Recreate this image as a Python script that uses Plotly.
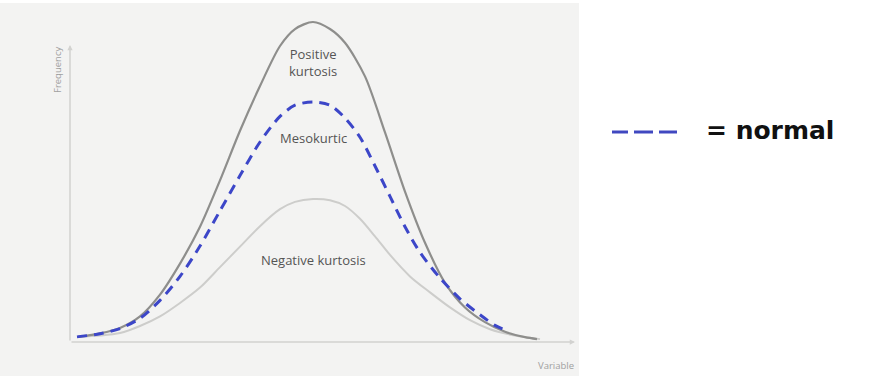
import plotly.graph_objects as go

# Values (x: variable, y: relative frequency)
pos_x = [0.16, 0.6, 1.0, 1.4, 1.8, 2.2, 2.6, 3.0, 3.4, 3.8, 4.2, 4.5, 4.86, 5.2, 5.5, 5.9, 6.3, 6.7, 7.1, 7.5, 7.9, 8.3, 8.7, 9.1, 9.34]
pos_y = [0.016, 0.027, 0.044, 0.080, 0.148, 0.245, 0.360, 0.505, 0.660, 0.800, 0.925, 0.978, 1.0, 0.978, 0.935, 0.830, 0.655, 0.470, 0.310, 0.185, 0.108, 0.062, 0.032, 0.015, 0.009]

norm_x = [0.14, 0.6, 1.0, 1.4, 1.8, 2.2, 2.6, 3.0, 3.4, 3.8, 4.2, 4.5, 4.86, 5.2, 5.5, 5.8, 6.1, 6.4, 6.7, 7.0, 7.4, 7.8, 8.2, 8.5, 8.7]
norm_y = [0.016, 0.026, 0.042, 0.074, 0.130, 0.205, 0.300, 0.410, 0.520, 0.625, 0.705, 0.740, 0.750, 0.740, 0.700, 0.640, 0.550, 0.455, 0.360, 0.280, 0.200, 0.135, 0.085, 0.052, 0.038]

neg_x = [0.16, 0.6, 1.0, 1.4, 1.8, 2.2, 2.6, 3.0, 3.4, 3.8, 4.2, 4.5, 4.86, 5.2, 5.5, 5.8, 6.1, 6.4, 6.8, 7.2, 7.6, 8.0, 8.4, 8.9, 9.4]
neg_y = [0.016, 0.020, 0.028, 0.050, 0.080, 0.122, 0.170, 0.234, 0.298, 0.362, 0.415, 0.438, 0.447, 0.443, 0.425, 0.385, 0.330, 0.272, 0.205, 0.155, 0.108, 0.068, 0.040, 0.020, 0.009]

labels = ["Positive<br>kurtosis", "Mesokurtic", "Negative kurtosis"]
label_x = [4.86, 4.86, 4.86]
label_y = [0.875, 0.638, 0.256]

X_MAX = 10.1
Y_MAX = 1.0625
Y_AXIS_TOP = 0.928

W, H = 880, 378
fig = go.Figure()

fig.add_trace(go.Scatter(x=neg_x, y=neg_y, mode="lines", line=dict(color="#cdcdcb", width=2, shape="spline", smoothing=0.8), hoverinfo="skip"))
fig.add_trace(go.Scatter(x=pos_x, y=pos_y, mode="lines", line=dict(color="#8e8e8c", width=2.2, shape="spline", smoothing=0.8), hoverinfo="skip"))
fig.add_trace(go.Scatter(x=norm_x, y=norm_y, mode="lines", line=dict(color="#3c46c8", width=3, dash="10px,7px", shape="spline", smoothing=0.8), hoverinfo="skip"))

text_font = dict(family="Open Sans", size=13, color="#555555")
for t, x, y in zip(labels, label_x, label_y):
    fig.add_annotation(x=x, y=y, xref="x", yref="y", text=t, showarrow=False, font=text_font, align="center",
                       xanchor="center", yanchor="middle")

# axis lines with small arrowheads
fig.add_annotation(x=X_MAX, y=0, ax=0, ay=0, xref="x", yref="y", axref="x", ayref="y", text="",
                   showarrow=True, arrowhead=2, arrowsize=0.7, arrowwidth=1.5, arrowcolor="#d2d2d0")
fig.add_annotation(x=0, y=Y_AXIS_TOP, ax=0, ay=0, xref="x", yref="y", axref="x", ayref="y", text="",
                   showarrow=True, arrowhead=2, arrowsize=0.7, arrowwidth=1.5, arrowcolor="#d2d2d0")

axis_font = dict(family="Open Sans", size=9.5, color="#a0a0a0")
fig.add_annotation(x=58 / W, y=1 - 70 / H, xref="paper", yref="paper", text="Frequency", textangle=-90,
                   showarrow=False, font=axis_font, xanchor="center", yanchor="middle")
fig.add_annotation(x=556 / W, y=1 - 365 / H, xref="paper", yref="paper", text="Variable",
                   showarrow=False, font=axis_font, xanchor="center", yanchor="middle")

# side note: dashed sample + "= normal"
for x0, x1 in [(612, 628), (634, 653), (659, 677)]:
    fig.add_shape(type="line", xref="paper", yref="paper", x0=x0 / W, x1=x1 / W, y0=1 - 132 / H, y1=1 - 132 / H,
                  line=dict(color="#4048c0", width=3))
fig.add_annotation(x=704 / W, y=1 - 131 / H, xref="paper", yref="paper", text="<b>= normal</b>", xanchor="left",
                   yanchor="middle", showarrow=False, font=dict(family="DejaVu Sans", size=25, color="#111111"))

# gray panel
fig.add_shape(type="rect", xref="paper", yref="paper", x0=0, x1=579 / W, y0=1 - 376 / H, y1=1 - 3 / H,
              fillcolor="#f3f3f2", line=dict(width=0), layer="below")

fig.update_layout(
    width=W, height=H,
    margin=dict(l=0, r=0, t=0, b=0),
    paper_bgcolor="white",
    plot_bgcolor="rgba(0,0,0,0)",
    showlegend=False,
    xaxis=dict(domain=[70 / W, 575 / W], range=[0, X_MAX], visible=False, fixedrange=True),
    yaxis=dict(domain=[1 - 342 / H, 1 - 2 / H], range=[0, Y_MAX], visible=False, fixedrange=True),
)

fig.write_html("out.html", config={"displayModeBar": False},
               post_script="document.body.style.margin='0px';document.body.style.overflow='hidden';")
